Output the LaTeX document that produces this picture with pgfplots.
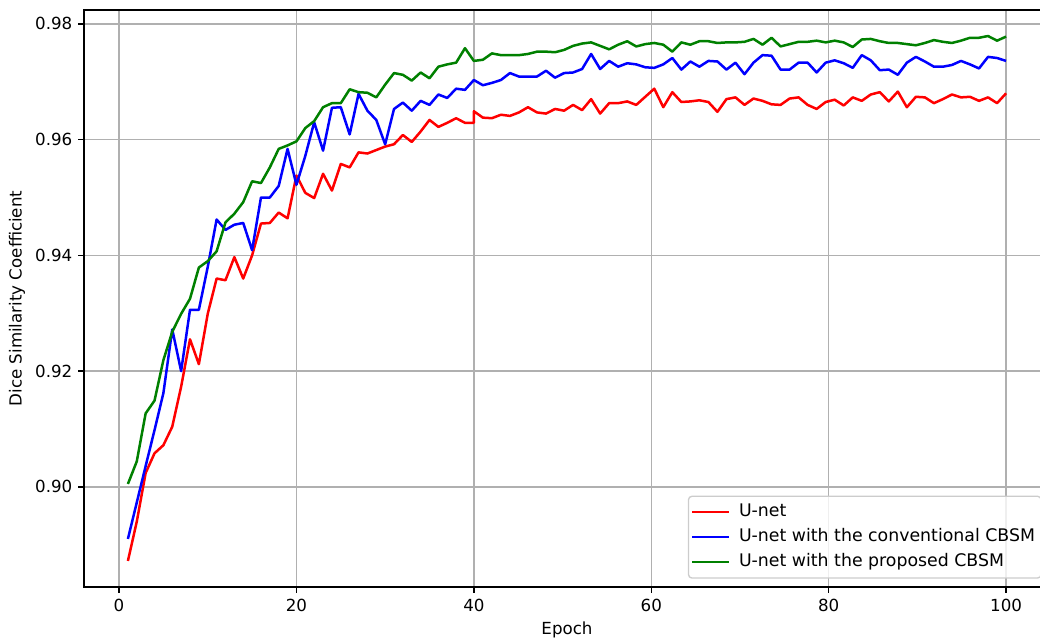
\documentclass[border=0pt]{standalone}
\usepackage{fontspec}
\setmainfont{DejaVu Sans}
\usepackage{pgfplots}
\usepackage{pgfplotstable}
\pgfplotsset{compat=1.18}
\definecolor{gridc}{HTML}{B0B0B0}
\definecolor{legc}{HTML}{CCCCCC}
\definecolor{mplgreen}{HTML}{008000}
\pgfplotstableread{
x r b g
1 0.8872 0.8910 0.9005
2 0.8940 0.8973 0.9044
3 0.9024 0.9036 0.9127
4 0.9058 0.9098 0.9149
5 0.9072 0.9162 0.9219
6 0.9104 0.9272 0.9268
7 0.9173 0.9200 0.9299
8 0.9255 0.9306 0.9325
9 0.9212 0.9306 0.9379
10 0.9299 0.9380 0.9390
11 0.9360 0.9462 0.9407
12 0.9357 0.9444 0.9457
13 0.9397 0.9453 0.9472
14 0.9360 0.9456 0.9492
15 0.9400 0.9409 0.9528
16 0.9455 0.9500 0.9525
17 0.9456 0.9500 0.9552
18 0.9474 0.9520 0.9584
19 0.9464 0.9584 0.9590
20 0.9538 0.9522 0.9597
21 0.9508 0.9572 0.9620
22 0.9499 0.9630 0.9632
23 0.9541 0.9581 0.9656
24 0.9512 0.9655 0.9663
25 0.9558 0.9656 0.9663
26 0.9552 0.9609 0.9687
27 0.9578 0.9679 0.9682
28 0.9576 0.9650 0.9681
29 0.9582 0.9634 0.9673
30 0.9588 0.9592 0.9695
31 0.9592 0.9653 0.9715
32 0.9608 0.9664 0.9712
33 0.9596 0.9650 0.9702
34 0.9614 0.9667 0.9716
35 0.9634 0.9660 0.9706
36 0.9622 0.9678 0.9726
37 0.9629 0.9672 0.9730
38 0.9637 0.9688 0.9733
39 0.9629 0.9686 0.9758
40 0.9629 0.9703 0.9736
40 0.9649 0.9703 0.9736
41.017 0.9638 0.9694 0.9738
42.034 0.9637 0.9698 0.9749
43.051 0.9643 0.9703 0.9746
44.068 0.9641 0.9715 0.9746
45.085 0.9647 0.9709 0.9746
46.102 0.9656 0.9709 0.9748
47.119 0.9647 0.9709 0.9752
48.136 0.9645 0.9719 0.9752
49.153 0.9653 0.9707 0.9751
50.169 0.9650 0.9715 0.9755
51.186 0.9660 0.9716 0.9762
52.203 0.9651 0.9722 0.9766
53.220 0.9670 0.9748 0.9768
54.237 0.9645 0.9722 0.9762
55.254 0.9663 0.9736 0.9756
56.271 0.9663 0.9726 0.9764
57.288 0.9666 0.9732 0.9770
58.305 0.9660 0.9730 0.9761
59.322 0.9674 0.9725 0.9765
60.339 0.9688 0.9724 0.9767
61.356 0.9656 0.9730 0.9764
62.373 0.9682 0.9741 0.9752
63.390 0.9665 0.9721 0.9768
64.407 0.9666 0.9735 0.9764
65.424 0.9668 0.9726 0.9770
66.441 0.9665 0.9736 0.9770
67.458 0.9648 0.9735 0.9767
68.475 0.9670 0.9721 0.9768
69.492 0.9673 0.9733 0.9768
70.508 0.9660 0.9713 0.9769
71.525 0.9671 0.9733 0.9774
72.542 0.9667 0.9746 0.9764
73.559 0.9661 0.9745 0.9776
74.576 0.9660 0.9721 0.9761
75.593 0.9671 0.9721 0.9765
76.610 0.9673 0.9733 0.9769
77.627 0.9660 0.9733 0.9769
78.644 0.9653 0.9716 0.9771
79.661 0.9665 0.9733 0.9768
80.678 0.9669 0.9737 0.9771
81.695 0.9659 0.9732 0.9768
82.712 0.9673 0.9724 0.9760
83.729 0.9667 0.9746 0.9773
84.746 0.9678 0.9737 0.9774
85.763 0.9682 0.9720 0.9770
86.780 0.9666 0.9721 0.9767
87.797 0.9683 0.9712 0.9767
88.814 0.9656 0.9733 0.9765
89.831 0.9674 0.9743 0.9763
90.847 0.9673 0.9735 0.9767
91.864 0.9663 0.9726 0.9772
92.881 0.9670 0.9726 0.9769
93.898 0.9678 0.9729 0.9767
94.915 0.9673 0.9736 0.9771
95.932 0.9674 0.9730 0.9776
96.949 0.9667 0.9723 0.9776
97.966 0.9673 0.9743 0.9779
98.983 0.9663 0.9741 0.9771
100 0.9680 0.9736 0.9778
}\datatable
\begin{document}
\begin{tikzpicture}
\begin{axis}[
  at={(0,0)}, anchor=south west,
  scale only axis,
  width=579.6pt, height=346.2pt,
  xmin=-3.95, xmax=104.95,
  ymin=0.8827, ymax=0.9824,
  xtick={0,20,40,60,80,100},
  ytick={0.90,0.92,0.94,0.96,0.98},
  yticklabel style={/pgf/number format/.cd, fixed, fixed zerofill, precision=2},
  /pgf/number format/assume math mode=true,
  tick label style={font=\fontsize{10}{12}\selectfont, black},
  xtick pos=bottom, ytick pos=left,
  tick align=outside,
  major tick length=3.5pt,
  tick style={black, line width=0.8pt},
  axis line style={black, line width=0.8pt},
  grid=major,
  major grid style={gridc, line width=0.8pt},
  xlabel={Epoch},
  ylabel={Dice Similarity Coefficient},
  label style={font=\fontsize{10}{12}\selectfont},
  every axis x label/.style={at={(axis description cs:0.5,0)}, yshift=-25.8pt, anchor=center},
  every axis y label/.style={at={(axis description cs:0,0.5)}, xshift=-40.2pt, rotate=90, anchor=center},
  legend cell align=left,
  legend image code/.code={\draw[#1] (0pt,0pt) -- (22pt,0pt);},
  legend style={at={(1,0)}, anchor=south east, xshift=-5pt, yshift=5pt,
    draw=legc, line width=0.8pt, rounded corners=2pt, fill=white, fill opacity=0.8, text opacity=1,
    font=\fontsize{10.4}{12}\selectfont, inner xsep=1.6pt, inner ysep=2.5pt, row sep=1pt,
    nodes={inner ysep=2pt, inner xsep=2pt, text height=7.6pt, text depth=2.4pt},
    /tikz/every odd column/.append style={column sep=3.2pt}},
]
\addplot[red, line width=1.5pt, line join=round] table[x=x, y=r] {\datatable};
\addlegendentry{U-net}
\addplot[blue, line width=1.5pt, line join=round] table[x=x, y=b] {\datatable};
\addlegendentry{U-net with the conventional CBSM}
\addplot[mplgreen, line width=1.5pt, line join=round] table[x=x, y=g] {\datatable};
\addlegendentry{U-net with the proposed CBSM}
\end{axis}
\pgfresetboundingbox
\path[use as bounding box] (-50.4pt,-33pt) rectangle (573.6pt,352.2pt);
\end{tikzpicture}
\end{document}
